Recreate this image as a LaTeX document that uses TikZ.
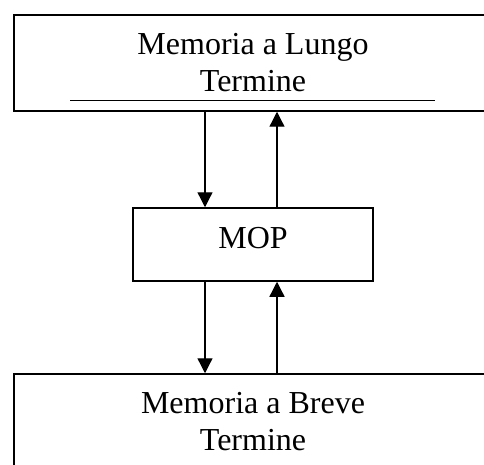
\documentclass[tikz,border=0pt]{standalone}
\usepackage{fontspec}
\setmainfont{Liberation Serif}
\usetikzlibrary{arrows.meta, positioning, calc}

\tikzset{
    membox/.style={draw, line width=1.5pt, minimum width=478pt, minimum height=96pt,
        inner sep=0pt, align=center, font=\fontsize{32}{37}\selectfont},
    mopbox/.style={draw, line width=1.5pt, minimum width=240pt, minimum height=73pt,
        inner sep=0pt, text depth=13pt, font=\fontsize{32}{37}\selectfont},
    flow/.style={line width=1.3pt, -{Triangle[width=15pt,length=15pt]}}
}

\begin{document}
\begin{tikzpicture}
\useasboundingbox (0,0) rectangle (484pt,-465pt);
\clip (0,0) rectangle (484pt,-465pt);
% the three stores
\node[membox] (ltm) at (253pt,-63pt) {Memoria a Lungo\\Termine};
\node[mopbox] (mop) at (253pt,-244.5pt) {MOP};
\node[membox] (stm) at (253pt,-422pt) {Memoria a Breve\\Termine};
% rule under the top text
\draw[line width=1.3pt] ($(ltm.south)+(-183pt,11pt)$) -- +(365pt,0);
% exchange between the stores
\draw[flow] ([xshift=-48pt]mop.north |- ltm.south) -- ([xshift=-48pt]mop.north);
\draw[flow] ([xshift=24pt]mop.north) -- ([xshift=24pt]mop.north |- ltm.south);
\draw[flow] ([xshift=-48pt]mop.south) -- ([xshift=-48pt]mop.south |- stm.north);
\draw[flow] ([xshift=24pt]mop.south |- stm.north) -- ([xshift=24pt]mop.south);
\end{tikzpicture}
\end{document}
